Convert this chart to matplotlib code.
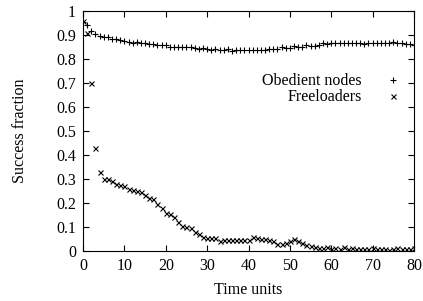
import matplotlib
matplotlib.use("Agg")
import matplotlib.pyplot as plt
from matplotlib.ticker import FuncFormatter

time_units = list(range(0, 81))
obedient = [0.955, 0.94, 0.915, 0.905, 0.895, 0.89, 0.89, 0.885, 0.885, 0.88,
            0.877, 0.872, 0.868, 0.87, 0.866, 0.866, 0.862, 0.862, 0.86, 0.858,
            0.857, 0.852, 0.852, 0.85, 0.85, 0.848, 0.848, 0.846, 0.843, 0.845,
            0.842, 0.838, 0.84, 0.836, 0.838, 0.84, 0.835, 0.838, 0.836, 0.837,
            0.836, 0.836, 0.838, 0.837, 0.838, 0.84, 0.84, 0.842, 0.848, 0.845,
            0.847, 0.855, 0.85, 0.85, 0.858, 0.856, 0.855, 0.86, 0.865, 0.862,
            0.866, 0.865, 0.867, 0.868, 0.866, 0.868, 0.868, 0.866, 0.864, 0.866,
            0.866, 0.868, 0.868, 0.866, 0.867, 0.872, 0.868, 0.866, 0.862, 0.864,
            0.858]
freeloaders = [0.96, 0.91, 0.70, 0.43, 0.33, 0.30, 0.30, 0.29, 0.28, 0.275,
               0.27, 0.26, 0.255, 0.25, 0.245, 0.235, 0.22, 0.215, 0.195, 0.18,
               0.16, 0.155, 0.14, 0.12, 0.105, 0.10, 0.095, 0.08, 0.07, 0.06,
               0.055, 0.055, 0.055, 0.043, 0.045, 0.045, 0.047, 0.045, 0.047, 0.045,
               0.047, 0.06, 0.055, 0.052, 0.05, 0.045, 0.04, 0.03, 0.028, 0.035,
               0.04, 0.05, 0.04, 0.035, 0.025, 0.02, 0.017, 0.013, 0.012, 0.015,
               0.01, 0.013, 0.01, 0.015, 0.01, 0.012, 0.008, 0.01, 0.01, 0.007,
               0.012, 0.008, 0.01, 0.007, 0.006, 0.01, 0.012, 0.008, 0.01, 0.007,
               0.012]
series_labels = ["Obedient nodes", "Freeloaders"]
x_ticks = [0, 10, 20, 30, 40, 50, 60, 70, 80]
y_ticks = [0, 0.1, 0.2, 0.3, 0.4, 0.5, 0.6, 0.7, 0.8, 0.9, 1]

plt.rcParams['font.family'] = ['Liberation Serif', 'DejaVu Serif']
plt.rcParams['font.size'] = 11.5

fig = plt.figure(figsize=(4.23, 3.01), dpi=100)
ax = fig.add_axes([83/423, 1 - 251/301, (414-83)/423, 240/301])

ax.plot(time_units, obedient, linestyle='none', marker='+', color='black',
        markersize=4.5, markeredgewidth=0.8, label=series_labels[0])
ax.plot(time_units, freeloaders, linestyle='none', marker='x', color='black',
        markersize=3.6, markeredgewidth=0.8, label=series_labels[1])

ax.set_xlim(0, 80)
ax.set_ylim(0, 1)
ax.set_xticks(x_ticks)
ax.set_yticks(y_ticks)
ax.yaxis.set_major_formatter(FuncFormatter(lambda v, p: f"{v:g}"))
ax.tick_params(direction='in', top=True, right=True, length=4, width=0.8, pad=5)
for s in ax.spines.values():
    s.set_linewidth(0.8)

ax.set_xlabel("Time units", labelpad=6)
ax.set_ylabel("Success fraction", labelpad=20)

ax.legend(loc='center right', bbox_to_anchor=(0.964, 0.673), frameon=False,
          markerfirst=False, handlelength=1.2, handletextpad=1.33,
          labelspacing=0.0, borderpad=0, borderaxespad=0)

fig.savefig("out.png", dpi=100)
